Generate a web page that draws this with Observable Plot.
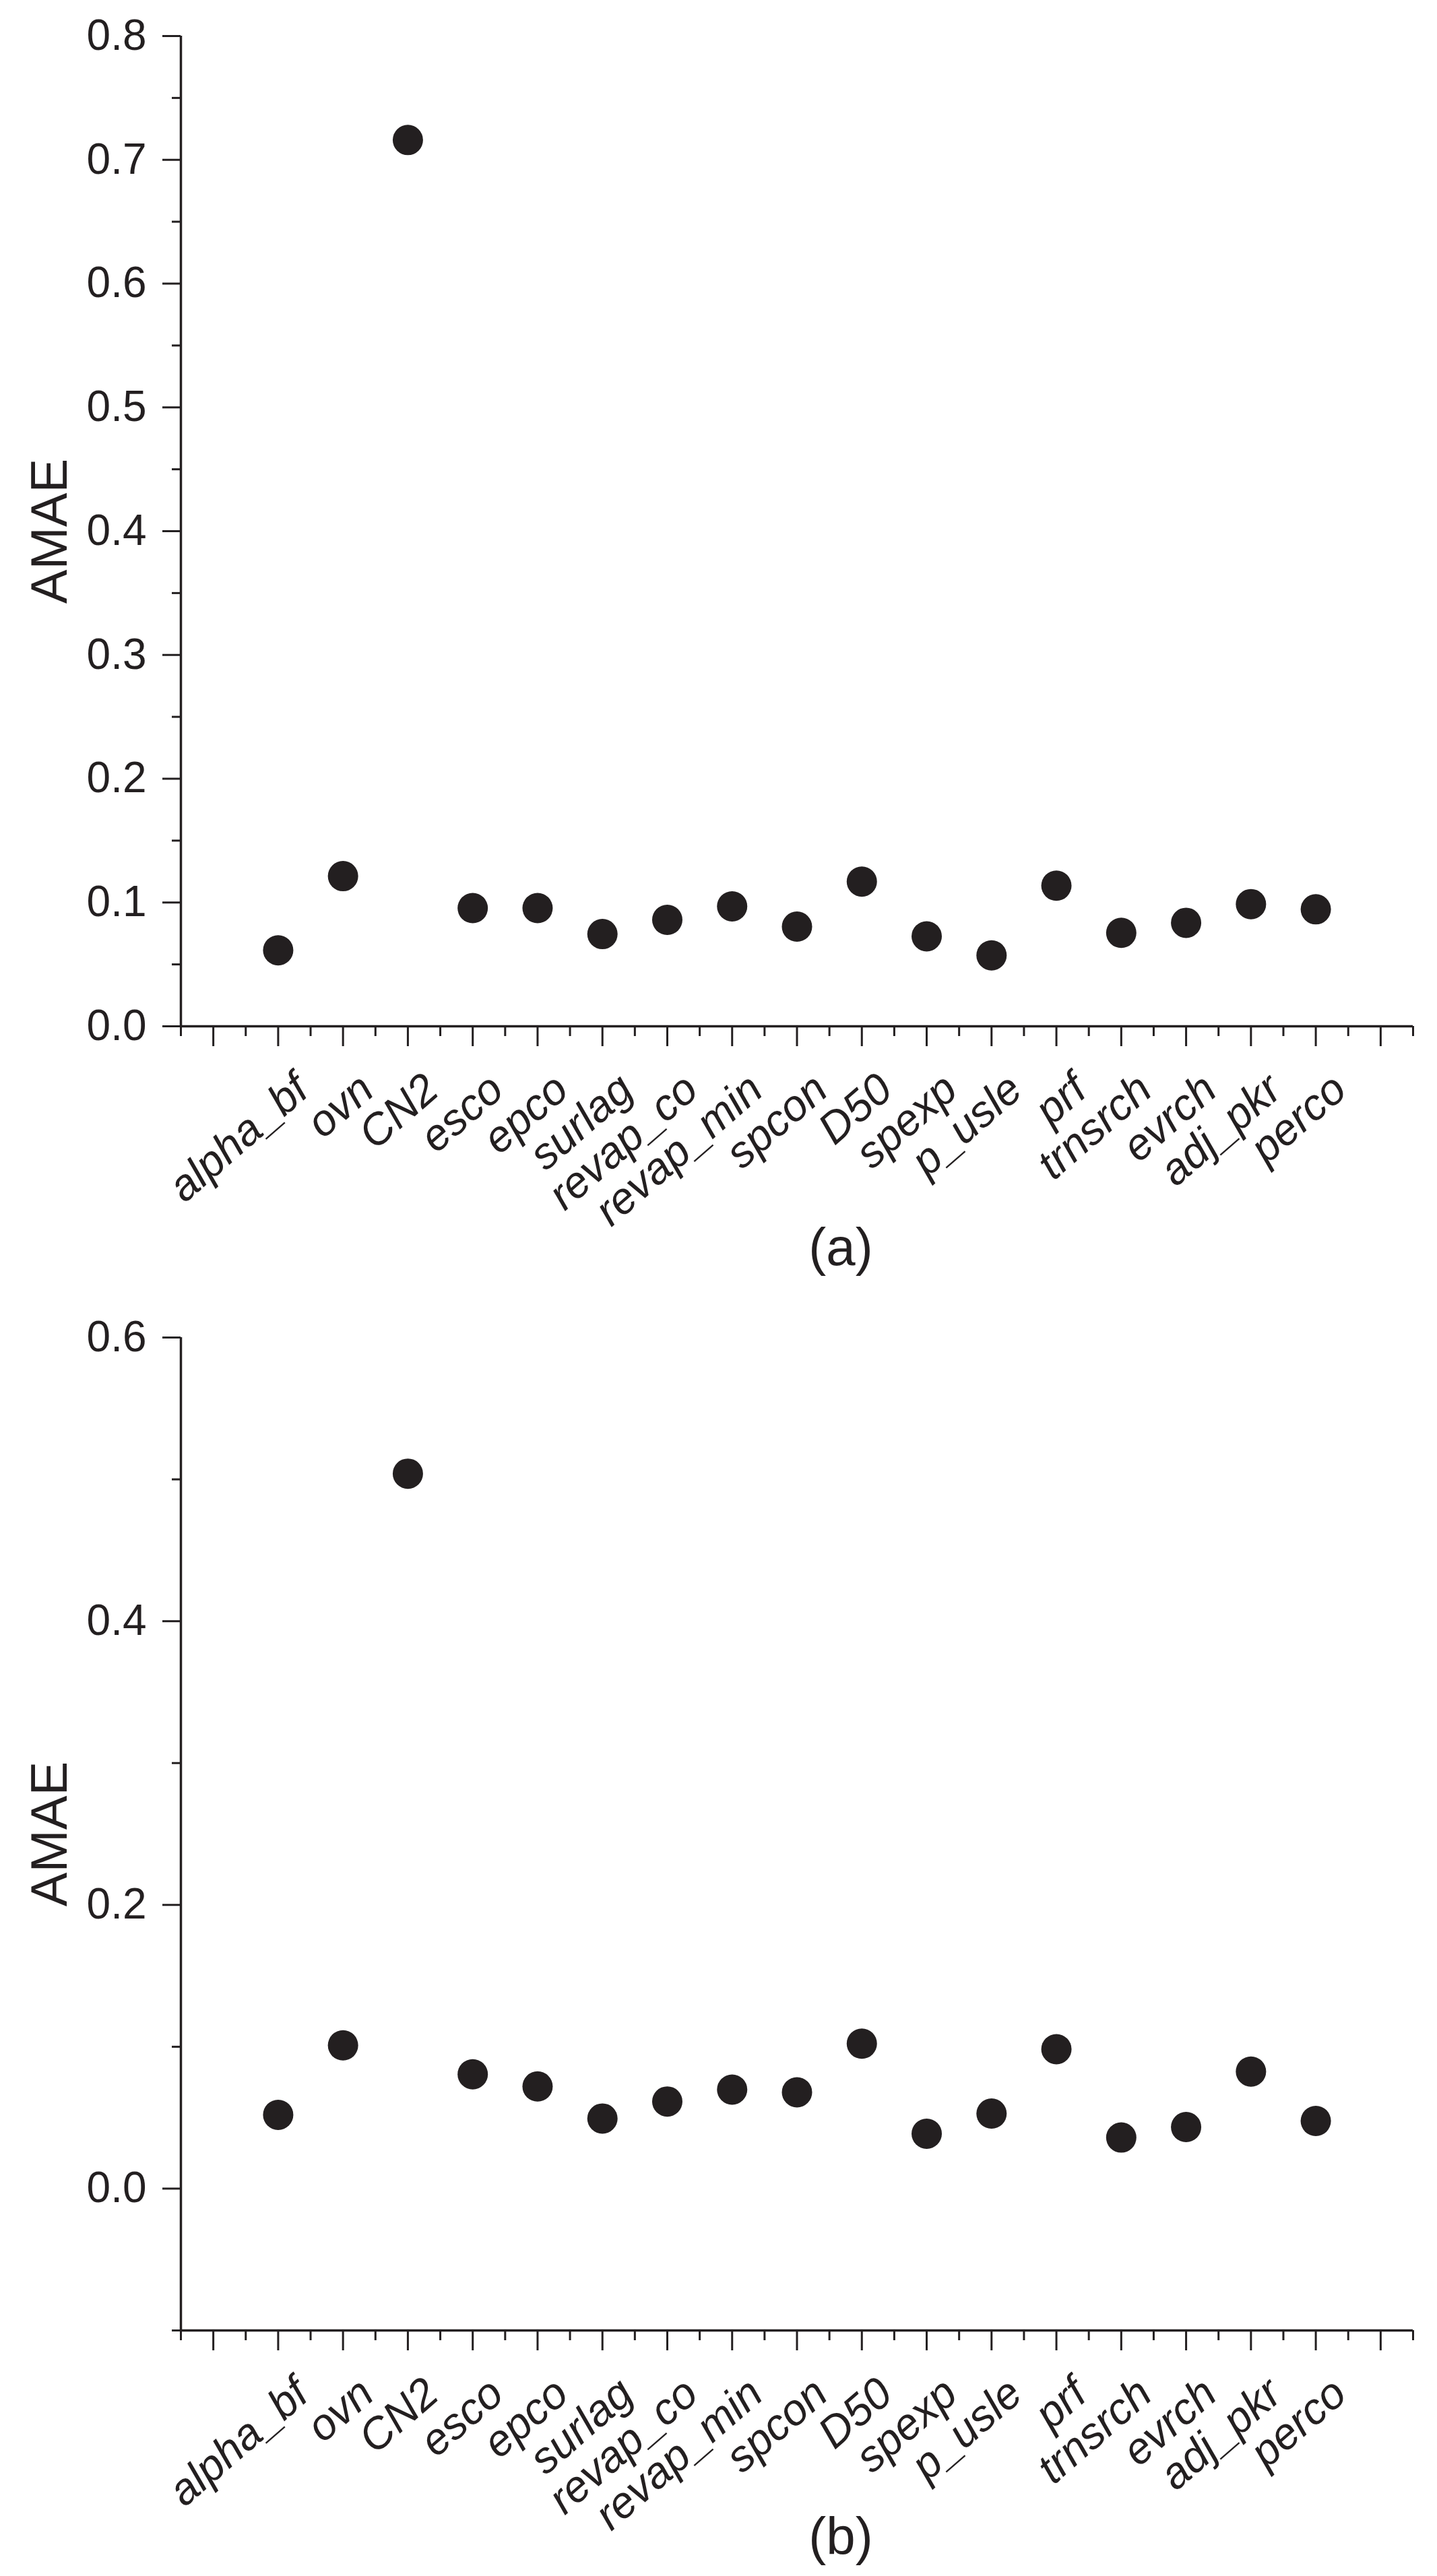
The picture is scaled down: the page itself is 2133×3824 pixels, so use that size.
<!DOCTYPE html>
<html>
<head>
<meta charset="utf-8">
<script src="https://cdn.jsdelivr.net/npm/d3@7"></script>
<script src="https://cdn.jsdelivr.net/npm/@observablehq/plot@0.6"></script>
<style>
  html, body { margin: 0; padding: 0; background: #fff; }
  #chart svg { display: block; }
</style>
</head>
<body>
<div id="chart"></div>
<script>
// ---- data ----
const params = ["alpha_bf", "ovn", "CN2", "esco", "epco", "surlag", "revap_co", "revap_min",
  "spcon", "D50", "spexp", "p_usle", "prf", "trnsrch", "evrch", "adj_pkr", "perco"];
const amaeA = [0.0614, 0.1213, 0.716, 0.0955, 0.0955, 0.0745, 0.0860, 0.0969,
  0.0805, 0.1169, 0.0727, 0.0573, 0.1136, 0.0755, 0.0836, 0.0987, 0.0945];
const amaeB = [0.0520, 0.1010, 0.504, 0.0806, 0.0720, 0.0494, 0.0614, 0.0698,
  0.0679, 0.1022, 0.0387, 0.0529, 0.0983, 0.0360, 0.0434, 0.0825, 0.0477];
const yMajorA = [0, 0.1, 0.2, 0.3, 0.4, 0.5, 0.6, 0.7, 0.8];
const yMinorA = [0.05, 0.15, 0.25, 0.35, 0.45, 0.55, 0.65, 0.75];
const yMajorB = [0, 0.2, 0.4, 0.6];
const yMinorB = [-0.1, 0.1, 0.3, 0.5];
const xMajor = d3.range(1, 20);          // slot ticks 1..19
const xMinor = d3.range(0.5, 20, 1);     // half-slot ticks 0.5..19.5
const yLabel = "AMAE";
const captions = ["(a)", "(b)"];

const ink = "#231f20";
const font = "'Liberation Sans', Arial, Helvetica, sans-serif";

function panel({values, yDomain, yMajor, yMinor, height, marginTop, marginBottom, caption, captionDy}) {
  const data = params.map((p, i) => ({param: p, slot: i + 2, v: values[i]}));
  return Plot.plot({
    width: 2133,
    height,
    marginTop,
    marginBottom,
    marginLeft: 268,
    marginRight: 36,
    style: {fontFamily: font, color: ink, background: "#fff", overflow: "visible"},
    x: {type: "linear", domain: [0.5, 19.5], label: null},
    y: {type: "linear", domain: yDomain, label: null},
    marks: [
      Plot.axisX({ticks: xMinor, tickSize: 15, tickFormat: () => "", strokeWidth: 3, stroke: ink, label: null}),
      Plot.axisX({ticks: xMajor, tickSize: 30, tickFormat: () => "", strokeWidth: 3, stroke: ink, label: null}),
      Plot.axisY({ticks: yMinor, tickSize: 13, tickFormat: () => "", strokeWidth: 3, stroke: ink, label: null}),
      Plot.axisY({ticks: yMajor, tickSize: 27, tickPadding: 24, tickFormat: d3.format(".1f"),
        fontSize: 64, strokeWidth: 3, stroke: ink, fill: ink, label: null}),
      Plot.ruleX([0.5], {y1: yDomain[0], y2: yDomain[1], stroke: ink, strokeWidth: 3.5}),
      Plot.ruleY([yDomain[0]], {x1: 0.5, x2: 19.5, stroke: ink, strokeWidth: 3.5}),
      Plot.text(data, {x: "slot", text: "param", frameAnchor: "bottom", rotate: -41,
        textAnchor: "end", lineAnchor: "top", dx: 19, dy: 65,
        fontSize: 65, fontStyle: "italic", fill: ink}),
      Plot.dot(data, {x: "slot", y: "v", r: 22.5, fill: ink, stroke: "none"}),
      Plot.text([yLabel], {text: d => d, frameAnchor: "left", rotate: -90, dx: -194,
        textAnchor: "middle", lineAnchor: "middle", fontSize: 76, fill: ink}),
      Plot.text([caption], {text: d => d, frameAnchor: "bottom", dx: 65, dy: captionDy,
        textAnchor: "middle", lineAnchor: "middle", fontSize: 78, fill: ink})
    ]
  });
}

const chart = document.getElementById("chart");
chart.append(panel({values: amaeA, yDomain: [0, 0.8], yMajor: yMajorA, yMinor: yMinorA,
  height: 1900, marginTop: 53, marginBottom: 377, caption: captions[0], captionDy: 330}));
chart.append(panel({values: amaeB, yDomain: [-0.1, 0.6], yMajor: yMajorB, yMinor: yMinorB,
  height: 1924, marginTop: 85, marginBottom: 365, caption: captions[1], captionDy: 308}));
</script>
</body>
</html>
